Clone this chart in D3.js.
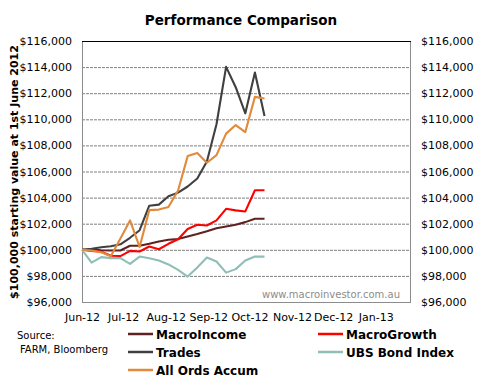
<!DOCTYPE html>
<html>
<head>
<meta charset="utf-8">
<script src="https://cdn.jsdelivr.net/npm/d3@7"></script>
<style>
  html, body { margin: 0; padding: 0; background: #fff; }
  svg { display: block; font-family: "DejaVu Sans", Verdana, sans-serif; }
</style>
</head>
<body>
<div id="chart"></div>
<script>
// weekly points, starting Fri 1 June 2012
const dates = ["2012-06-01","2012-06-08","2012-06-15","2012-06-22","2012-06-29",
  "2012-07-06","2012-07-13","2012-07-20","2012-07-27","2012-08-03",
  "2012-08-10","2012-08-17","2012-08-24","2012-08-31","2012-09-07",
  "2012-09-14","2012-09-21","2012-09-28","2012-10-05","2012-10-12"];

const macroIncome = [100000,100020,99960,99950,99950,100310,100310,100460,100640,100770,
  100820,101020,101210,101420,101650,101790,101920,102120,102380,102380];
const macroGrowth = [100000,99920,99850,99540,99520,99920,99870,100250,100040,100460,
  100810,101590,101920,101860,102250,103140,103020,102940,104560,104560];
const trades = [100000,100080,100190,100270,100420,100920,101500,103380,103460,104100,
  104380,104850,105460,106770,109620,114020,112460,110460,113590,110250];
const ubsBond = [100000,99020,99440,99360,99360,98920,99480,99350,99180,98880,
  98460,97950,98650,99410,99100,98250,98520,99180,99480,99480];
const allOrds = [100000,99940,99810,99500,100870,102250,100210,103040,103080,103280,
  104540,107180,107410,106670,107250,108900,109560,109020,111720,111590];

const yTicks = [96000,98000,100000,102000,104000,106000,108000,110000,112000,114000,116000];
const monthTicks = ["2012-06-01","2012-07-01","2012-08-01","2012-09-01","2012-10-01",
  "2012-11-01","2012-12-01","2013-01-01"];

const series = [
  { name: "MacroIncome", values: macroIncome, color: "#5e2222" },
  { name: "MacroGrowth", values: macroGrowth, color: "#ff0000" },
  { name: "Trades", values: trades, color: "#404040" },
  { name: "UBS Bond Index", values: ubsBond, color: "#8fbeb6" },
  { name: "All Ords Accum", values: allOrds, color: "#e08a3c" }
];

const W = 484, H = 385;
const plot = { left: 82, right: 410, top: 41, bottom: 302 };
const parse = d3.timeParse("%Y-%m-%d");

const svg = d3.select("#chart").append("svg")
  .attr("width", W).attr("height", H);

const x = d3.scaleTime()
  .domain([parse("2012-06-01"), parse("2013-01-26")])
  .range([plot.left, plot.right]);
const y = d3.scaleLinear()
  .domain([96000, 116000])
  .range([plot.bottom, plot.top]);

const fmt = v => "$" + d3.format(",")(v);

// title
svg.append("text")
  .attr("x", 241).attr("y", 25)
  .attr("text-anchor", "middle")
  .style("font-size", "13.5px").style("font-weight", "bold")
  .text("Performance Comparison");

// gridlines
svg.append("g")
  .selectAll("line")
  .data(yTicks.filter(v => v > 96000 && v < 116000))
  .join("line")
  .attr("x1", plot.left).attr("x2", plot.right)
  .attr("y1", d => y(d) + 0.5).attr("y2", d => y(d) + 0.5)
  .attr("stroke", "#7f7f7f").attr("stroke-width", 1)
  .attr("stroke-dasharray", "3,1");

// plot frame
svg.append("rect")
  .attr("x", plot.left + 0.5).attr("y", plot.top + 0.5)
  .attr("width", plot.right - plot.left).attr("height", plot.bottom - plot.top)
  .attr("fill", "none").attr("stroke", "#8c8c8c");
svg.append("line")
  .attr("x1", plot.left).attr("x2", plot.right + 1)
  .attr("y1", plot.top + 0.5).attr("y2", plot.top + 0.5)
  .attr("stroke", "#000");

// left axis
const yLeft = svg.append("g")
  .attr("transform", `translate(${plot.left},0)`)
  .call(d3.axisLeft(y).tickValues(yTicks).tickFormat(fmt).tickSize(0).tickPadding(10));
yLeft.select(".domain").remove();
yLeft.selectAll("text").style("font-size", "11px").style("font-family", "DejaVu Sans").attr("fill", "#000");

// right axis
const yRight = svg.append("g")
  .attr("transform", `translate(${plot.right},0)`)
  .call(d3.axisRight(y).tickValues(yTicks).tickFormat(fmt).tickSize(0).tickPadding(11));
yRight.select(".domain").remove();
yRight.selectAll("text").style("font-size", "11px").style("font-family", "DejaVu Sans").attr("fill", "#000");

// x axis
const xAx = svg.append("g")
  .attr("transform", `translate(0,${plot.bottom})`)
  .call(d3.axisBottom(x).tickValues(monthTicks.map(parse))
    .tickFormat(d3.timeFormat("%b-%y")).tickSize(0).tickPadding(11));
xAx.select(".domain").remove();
xAx.selectAll("text").style("font-size", "11px").style("font-family", "DejaVu Sans").attr("fill", "#000");

// y axis title
svg.append("text")
  .attr("transform", "translate(18,172) rotate(-90)")
  .attr("text-anchor", "middle")
  .style("font-size", "11px").style("font-weight", "bold")
  .text("$100,000 starting value at 1st June 2012");

// watermark
svg.append("text")
  .attr("x", 400).attr("y", 298)
  .attr("text-anchor", "end")
  .attr("fill", "#8c8c8c")
  .style("font-size", "10px")
  .text("www.macroinvestor.com.au");

// lines
const line = d3.line()
  .x((d, i) => x(parse(dates[i])))
  .y(d => y(d));

svg.append("g")
  .selectAll("path")
  .data(series)
  .join("path")
  .attr("d", d => line(d.values))
  .attr("fill", "none")
  .attr("stroke", d => d.color)
  .attr("stroke-width", 2.1)
  .attr("stroke-linejoin", "round");

// source note
svg.append("text").attr("x", 17).attr("y", 339)
  .style("font-size", "10px").text("Source:");
svg.append("text").attr("x", 20).attr("y", 353)
  .style("font-size", "10px").text("FARM, Bloomberg");

// legend
const legPos = [[128, 334], [318, 334], [128, 352], [318, 352], [128, 370]];
const leg = svg.append("g")
  .selectAll("g")
  .data(series)
  .join("g")
  .attr("transform", (d, i) => `translate(${legPos[i][0]},${legPos[i][1]})`);
leg.append("line")
  .attr("x1", 0).attr("x2", 25).attr("y1", 0).attr("y2", 0)
  .attr("stroke", d => d.color).attr("stroke-width", 2.5);
leg.append("text")
  .attr("x", 28).attr("y", 4.5)
  .style("font-size", "12px").style("font-weight", "bold")
  .text(d => d.name);
</script>
</body>
</html>
